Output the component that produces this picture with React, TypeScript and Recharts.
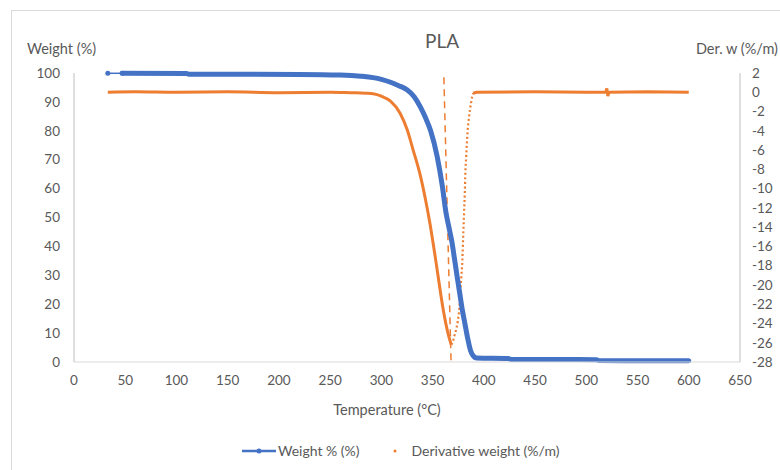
import { ComposedChart, Line, XAxis, YAxis, ReferenceLine } from "recharts";

// Weight % curve (first isolated point, then the main trace)
const weightStartT = [33, 47];
const weightStartW = [99.9, 99.9];
const weightT = [47, 110, 112, 220, 260, 280, 292, 300, 309, 317, 325, 332, 338, 343, 348, 354.5, 359.4, 363, 366, 369, 371.5, 374, 376.5, 379, 381.5, 384, 387, 390, 393, 424, 426, 510, 512, 600];
const weightW = [99.9, 99.8, 99.6, 99.5, 99.3, 98.9, 98.4, 97.8, 96.8, 95.6, 94.2, 91.8, 88.3, 84.6, 80.1, 71.0, 61.0, 51.8, 46.5, 41.2, 35.3, 29.4, 23.7, 18, 13.3, 8.6, 4, 2.0, 1.4, 1.2, 0.9, 0.8, 0.5, 0.4];

// derivative weight: falling branch, sparse rising branch, flat tail
const derFallT = [33, 60, 100, 150, 200, 250, 270, 285, 292, 300, 308.6, 318.4, 325.2, 331, 337.9, 342.8, 347.7, 351, 355.5, 360.4, 365.2, 368.2];
const derFallD = [0, 0.05, 0, 0.05, -0.05, 0, -0.05, -0.1, -0.15, -0.4, -0.9, -2.2, -3.9, -6.0, -8.6, -11.0, -13.8, -16.0, -19.2, -22.6, -25.1, -26.2];
const derRiseT = [368.2, 370, 371.5, 373, 374.5, 376, 377, 378, 379, 380, 380.7, 381.4, 382, 382.8, 383.6, 384.5, 385.5, 386.5, 387.5, 388.5, 389.5];
const derRiseD = [-26.2, -25.8, -25.2, -24.6, -23.8, -22.5, -20.9, -19.2, -17.5, -14.5, -12.5, -10.5, -8.3, -6.6, -5.0, -3.6, -2.6, -1.8, -1.1, -0.5, -0.1];
const derTailT = [389.5, 393, 450, 500, 519, 520, 521, 522, 560, 600];
const derTailD = [-0.1, 0, 0.05, 0, 0, 0.4, -0.4, 0, 0.05, 0];

const xTicks = [0, 50, 100, 150, 200, 250, 300, 350, 400, 450, 500, 550, 600, 650];
const leftTicks = [0, 10, 20, 30, 40, 50, 60, 70, 80, 90, 100];
const rightTicks = [-28, -26, -24, -22, -20, -18, -16, -14, -12, -10, -8, -6, -4, -2, 0, 2];

const zip = (t: number[], v: number[], key: string) => t.map((x, i) => ({ t: x, [key]: v[i] }));

const BLUE = "#4472C4";
const ORANGE = "#ED7D31";
const TEXT = "#595959";
const FONT = "Lato, 'Open Sans', sans-serif";

export default function App() {
  const tick = { fill: TEXT, fontSize: 13.5, fontFamily: FONT };
  return (
    <div style={{ position: "fixed", left: 0, top: 0, width: 780, height: 470, background: "#fff", overflow: "hidden", fontFamily: FONT }}>
      <div style={{ position: "absolute", left: 11, top: 10, width: 800, height: 500, border: "1px solid #D9D9D9" }} />
      <div style={{ position: "absolute", left: 0, top: 0 }}>
        <ComposedChart width={780} height={470} margin={{ top: 73, right: 0, bottom: 78, left: 24 }}>
          <XAxis
            type="number"
            dataKey="t"
            domain={[0, 650]}
            ticks={xTicks}
            tick={tick}
            tickLine={false}
            tickSize={0}
            tickMargin={13}
            height={30}
            stroke="#D9D9D9"
            allowDataOverflow
          />
          <YAxis
            yAxisId="left"
            domain={[0, 100]}
            ticks={leftTicks}
            tick={tick}
            tickLine={false}
            tickSize={0}
            tickMargin={14}
            width={50}
            stroke="#BFBFBF"
          />
          <YAxis
            yAxisId="right"
            orientation="right"
            domain={[-28, 2]}
            ticks={rightTicks}
            tick={{ ...tick, textAnchor: "start" }}
            tickLine={false}
            tickSize={0}
            tickMargin={12}
            width={40}
            stroke="#BFBFBF"
            interval={0}
          />
          <ReferenceLine
            yAxisId="left"
            segment={[{ x: 361, y: 98.5 }, { x: 368, y: 0 }]}
            stroke={ORANGE}
            strokeWidth={1.5}
            strokeDasharray="7 5"
          />
          <Line
            yAxisId="right"
            data={zip(derFallT, derFallD, "d")}
            dataKey="d"
            type="monotone"
            stroke={ORANGE}
            strokeWidth={3}
            dot={false}
            isAnimationActive={false}
          />
          {/* sparse dots on the fast rising flank */}
          <Line
            yAxisId="right"
            data={zip(derRiseT, derRiseD, "d")}
            dataKey="d"
            type="monotone"
            stroke={ORANGE}
            strokeWidth={2.2}
            strokeDasharray="2 2.5"
            dot={false}
            isAnimationActive={false}
          />
          <Line
            yAxisId="right"
            data={zip(derTailT, derTailD, "d")}
            dataKey="d"
            type="linear"
            stroke={ORANGE}
            strokeWidth={3}
            dot={false}
            isAnimationActive={false}
          />
          <Line
            yAxisId="left"
            data={zip(weightStartT, weightStartW, "w")}
            dataKey="w"
            type="linear"
            stroke={BLUE}
            strokeWidth={1.5}
            dot={{ r: 2.5, fill: BLUE, stroke: "none" }}
            isAnimationActive={false}
          />
          <Line
            yAxisId="left"
            data={zip(weightT, weightW, "w")}
            dataKey="w"
            type="monotone"
            stroke={BLUE}
            strokeWidth={5}
            strokeLinecap="round"
            strokeLinejoin="round"
            dot={false}
            isAnimationActive={false}
          />
        </ComposedChart>
      </div>
      <div style={{ position: "absolute", left: 0, width: 884, top: 29, textAlign: "center", fontSize: 19, color: TEXT }}>PLA</div>
      <div style={{ position: "absolute", left: 27, top: 40, fontSize: 14.5, color: TEXT }}>Weight (%)</div>
      <div style={{ position: "absolute", right: 2, top: 40, fontSize: 14.5, color: TEXT }}>Der. w (%/m)</div>
      <div style={{ position: "absolute", left: 0, width: 774, top: 401, textAlign: "center", fontSize: 14.5, color: TEXT }}>Temperature (°C)</div>
      <div style={{ position: "absolute", left: 242, top: 442, display: "flex", alignItems: "center", fontSize: 14, color: TEXT }}>
        <svg width={34} height={10} style={{ marginRight: 2 }}>
          <line x1={0} y1={5} x2={34} y2={5} stroke={BLUE} strokeWidth={2.5} />
          <circle cx={17} cy={5} r={2.5} fill={BLUE} />
        </svg>
        <span>Weight % (%)</span>
        <svg width={20} height={10} style={{ marginLeft: 25, marginRight: 7 }}>
          <circle cx={10} cy={5} r={1.5} fill={ORANGE} />
        </svg>
        <span>Derivative weight (%/m)</span>
      </div>
    </div>
  );
}
